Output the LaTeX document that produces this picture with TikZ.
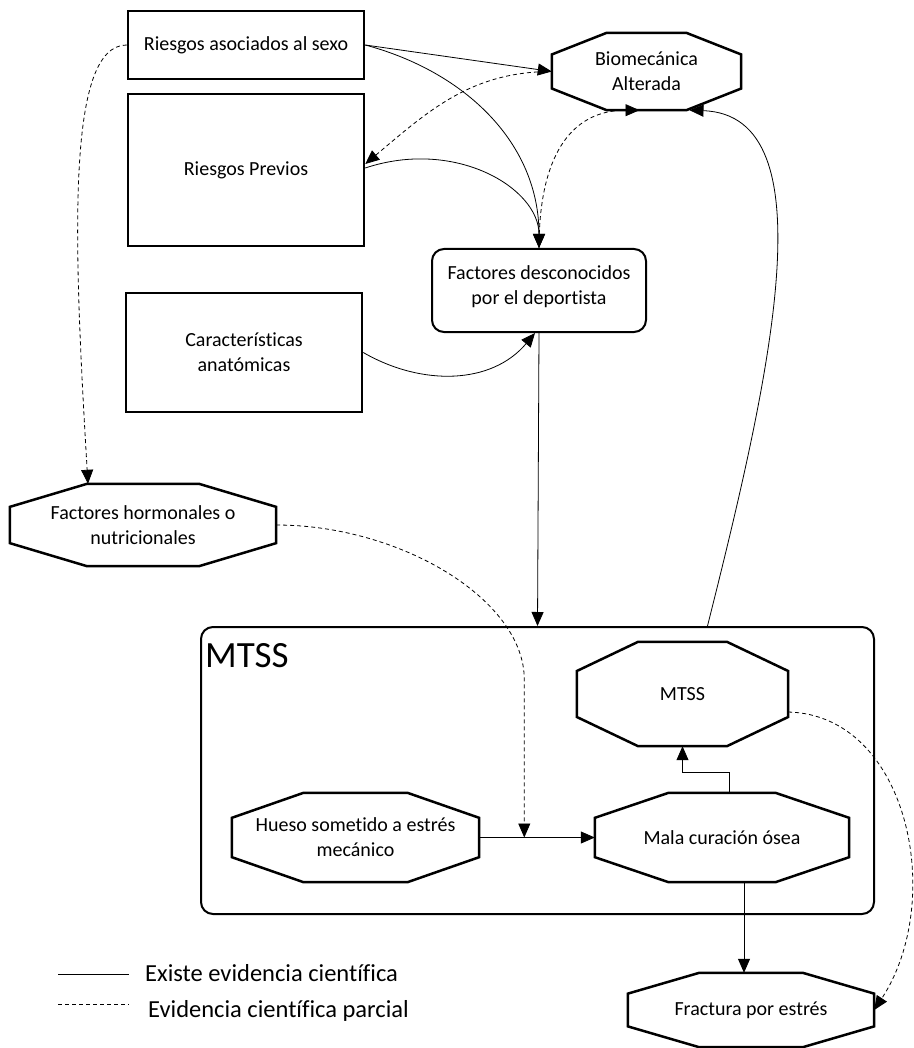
\documentclass[tikz,border=0pt]{standalone}
\usepackage{fontspec}
\setmainfont{Carlito}[Ligatures=NoCommon]
\usetikzlibrary{arrows.meta,calc}
\newcommand\textonodo{\fontsize{20}{25}\selectfont}
\newcommand\textoley{\fontsize{24.5}{29}\selectfont}

\begin{document}
\begin{tikzpicture}[x=1pt,y=1pt,
  >={Triangle[length=14pt,width=12pt]},
  caja/.style={draw, line width=2.5pt, align=center, font=\textonodo, inner sep=0pt},
  octo/.style={align=center, font=\textonodo, inner sep=0pt},
  flecha/.style={line width=0.8pt},
  parcial/.style={line width=0.8pt, dash pattern=on 4pt off 3pt}]
\useasboundingbox (0,0) rectangle (913,-1048);

% factores de riesgo
\node[caja, minimum width=236pt, minimum height=68pt] (sexo) at (246,-45) {Riesgos asociados al sexo};
\node[caja, minimum width=236pt, minimum height=152pt] (previos) at (246,-170) {Riesgos Previos};
\node[caja, minimum width=236pt, minimum height=119pt] (anat) at (244,-352.5) {Características\\anatómicas};
\node[caja, rounded corners=12pt, line width=2pt, minimum width=214pt, minimum height=83pt, text depth=10pt] (desc) at (539,-290.5) {Factores desconocidos\\por el deportista};
\node[octo, minimum width=189pt, minimum height=77pt] (bio) at (646.5,-71.5) {Biomecánica\\Alterada};
\node[octo, minimum width=266pt, minimum height=82pt] (horm) at (143,-525) {Factores hormonales o\\nutricionales};

% recuadro MTSS
\node[draw, rounded corners=12pt, line width=2pt, minimum width=673pt, minimum height=287pt] (cont) at (537.5,-770.5) {};
\node[anchor=base west, font=\fontsize{37}{40}\selectfont, inner sep=0pt] (contlbl) at (205,-667) {MTSS};
\node[octo, minimum width=211pt, minimum height=104pt] (mtss) at (682.5,-694) {MTSS};
\node[octo, minimum width=247pt, minimum height=89pt] (hueso) at (355.5,-837.5) {Hueso sometido a estrés\\mecánico};
\node[octo, minimum width=254pt, minimum height=89pt] (mala) at (722,-837.5) {Mala curación ósea};
\node[octo, minimum width=246pt, minimum height=74pt] (frac) at (751,-1010) {Fractura por estrés};

% bordes octogonales
\foreach \n in {bio,horm,mtss,hueso,mala,frac}
  \draw[line width=2.5pt] ($(\n.north west)!.29!(\n.north east)$) -- ($(\n.north west)!.71!(\n.north east)$)
    -- ($(\n.north east)!.28!(\n.south east)$) -- ($(\n.north east)!.72!(\n.south east)$)
    -- ($(\n.south west)!.71!(\n.south east)$) -- ($(\n.south west)!.29!(\n.south east)$)
    -- ($(\n.north west)!.72!(\n.south west)$) -- ($(\n.north west)!.28!(\n.south west)$) -- cycle;

% conexiones
\draw[flecha,->] (sexo.east) -- (bio.west);
\draw[flecha,->] (sexo.east) to[out=-15,in=90] (desc.north);
\draw[flecha,->] ([yshift=2pt]previos.east) .. controls +(90,30) and +(0,60) .. (desc.north);
\draw[parcial,->] (bio.west) to[out=180,in=40] ([yshift=6pt]previos.east);
\draw[parcial,->] (desc.north) .. controls +(0,90) and +(-70,0) .. ([xshift=-7pt]bio.south);
\draw[flecha,->] ([xshift=170pt]cont.north) .. controls +(62,247) and +(141,-5) .. ([xshift=43pt]bio.south);
\draw[flecha,->] (anat.east) to[out=-30,in=-130] ([xshift=-4pt]desc.south);
\draw[flecha,->] (desc.south) -- (cont.north);
\draw[parcial,->] (sexo.west) .. controls +(-60,0) and +(-15,250) .. ([xshift=-55pt]horm.north);
\coordinate (cruce) at ($(hueso.east)!.39!(mala.west)$);
\draw[parcial,->] (horm.east) .. controls +(124,0) and +(0,80) .. ([yshift=158pt]cruce) -- (cruce);
\draw[flecha,->] (hueso.east) -- (mala.west);
\draw[flecha,->] ([xshift=7pt]mala.north) -- ++(0,20) -| (mtss.south);
\draw[flecha,->] ([xshift=22pt]mala.south) -- ([xshift=-7pt]frac.north);
\draw[parcial,->] ([yshift=-18pt]mtss.east) .. controls +(120,-3) and +(72,110) .. (frac.east);

% leyenda
\node[anchor=base west, font=\textoley, inner sep=0pt] (ley1) at (145,-981.5) {Existe evidencia científica};
\node[anchor=base west, font=\textoley, inner sep=0pt] (ley2) at (148,-1017) {Evidencia científica parcial};
\coordinate (lin1) at (58,-974);
\coordinate (lin2) at (58,-1004);
\draw[flecha] (lin1) -- ++(71,0);
\draw[parcial] (lin2) -- ++(71,0);
\end{tikzpicture}
\end{document}
